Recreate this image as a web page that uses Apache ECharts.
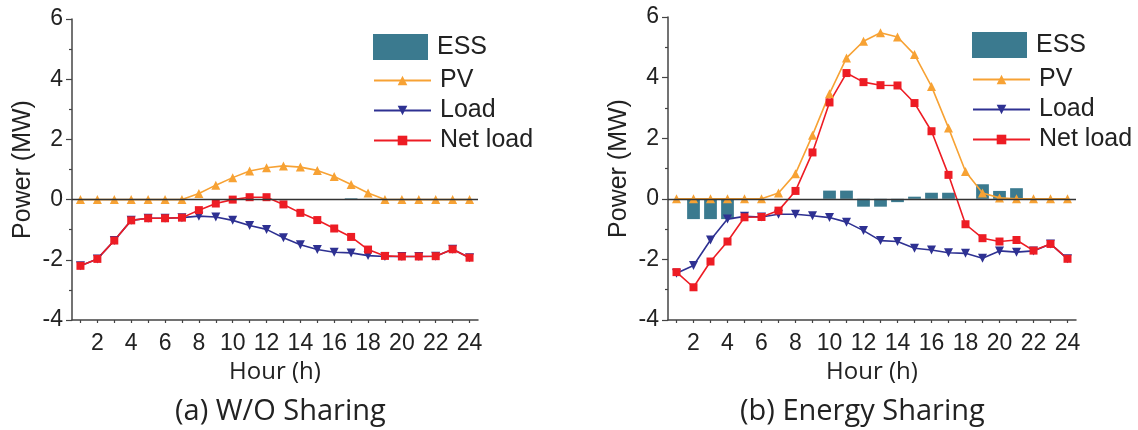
<!DOCTYPE html>
<html>
<head>
<meta charset="utf-8">
<script src="https://cdn.jsdelivr.net/npm/echarts@6/dist/echarts.min.js"></script>
<style>
html,body{margin:0;padding:0;background:#fff;}
#chart{width:1138px;height:430px;}
</style>
</head>
<body>
<div id="chart"></div>
<script>
// ---- data ----
const hours = ['1','2','3','4','5','6','7','8','9','10','11','12','13','14','15','16','17','18','19','20','21','22','23','24'];
const yTicks = [-4, -2, 0, 2, 4, 6];

// (a) W/O Sharing
const essA  = [0,0,0,0,0,0,0,0,0,0,0,0,0,0,0,0,0.04,0,0,0,0,0,0,0];
const pvA   = [0,0,0,0,0,0,0,0.2,0.48,0.73,0.95,1.06,1.12,1.08,0.97,0.77,0.5,0.22,0,0,0,0,0,0];
const loadA = [-2.2,-1.97,-1.36,-0.69,-0.62,-0.62,-0.6,-0.55,-0.58,-0.69,-0.86,-0.99,-1.27,-1.5,-1.66,-1.75,-1.77,-1.86,-1.89,-1.89,-1.89,-1.88,-1.65,-1.93];
const netA  = [-2.2,-1.97,-1.36,-0.69,-0.62,-0.62,-0.6,-0.35,-0.13,0.0,0.08,0.08,-0.16,-0.44,-0.68,-0.96,-1.24,-1.66,-1.87,-1.89,-1.89,-1.88,-1.65,-1.93];

// (b) Energy Sharing
const essB  = [0,-0.67,-0.67,-0.67,0,0,0,0,0,0.27,0.27,-0.26,-0.26,-0.11,0.07,0.2,0.2,0,0.48,0.26,0.35,0,0,0];
const pvB   = [0,0,0,0,0,0,0.19,0.83,2.1,3.47,4.65,5.2,5.48,5.34,4.76,3.71,2.34,0.9,0.19,0.03,0,0,0,0];
const loadB = [-2.46,-2.2,-1.36,-0.67,-0.58,-0.6,-0.51,-0.51,-0.56,-0.62,-0.77,-1.05,-1.38,-1.41,-1.63,-1.69,-1.78,-1.8,-1.96,-1.72,-1.76,-1.72,-1.49,-1.98];
const netB  = [-2.42,-2.92,-2.07,-1.41,-0.61,-0.6,-0.39,0.26,1.53,3.18,4.15,3.85,3.75,3.74,3.16,2.23,0.79,-0.84,-1.3,-1.41,-1.36,-1.71,-1.49,-1.98];

const captions = ['(a) W/O Sharing', '(b) Energy Sharing'];
const names = ['ESS', 'PV', 'Load', 'Net load'];

// ---- styles ----
const C = { ess:'#3b7a8f', pv:'#f7a234', load:'#2e3192', net:'#ed1c24', axis:'#444', text:'#222' };
const numFont = 'Liberation Sans';
const capFont = 'Open Sans';

const grids = [
  { left: 72, right: 1138 - 478, top: 19, bottom: 110 },
  { left: 668, right: 1138 - 1076, top: 17, bottom: 110 }
];

function xAxes(g) {
  return [
    { gridIndex: g, type: 'category', data: hours, position: 'bottom',
      axisLine: { onZero: false, lineStyle: { color: C.axis, width: 1.5 } },
      axisTick: { alignWithLabel: true, interval: (i) => i % 2 === 1, length: 6, lineStyle: { color: C.axis, width: 1.2 } },
      axisLabel: { interval: (i) => i % 2 === 1, fontSize: 23, fontFamily: numFont, color: C.text, margin: 12 },
      splitLine: { show: false },
      name: 'Hour (h)', nameLocation: 'middle', nameGap: 38,
      nameTextStyle: { fontSize: 24, fontFamily: capFont, color: C.text } },
    { gridIndex: g, type: 'category', data: hours, position: 'bottom',
      axisLine: { show: false, onZero: false },
      axisTick: { show: true, alignWithLabel: true, interval: 0, length: 3, lineStyle: { color: C.axis, width: 1.2 } },
      axisLabel: { show: false }, splitLine: { show: false } }
  ];
}
function yAxis(g) {
  return { gridIndex: g, type: 'value', min: yTicks[0], max: yTicks[yTicks.length-1], interval: 2,
    axisLine: { show: true, lineStyle: { color: C.axis, width: 1.5 } },
    axisTick: { show: true, length: 6, lineStyle: { color: C.axis, width: 1.2 } },
    minorTick: { show: true, splitNumber: 2, length: 3, lineStyle: { color: C.axis, width: 1.2 } },
    splitLine: { show: false }, minorSplitLine: { show: false },
    axisLabel: { fontSize: 23, fontFamily: numFont, color: C.text, margin: 9 },
    name: 'Power (MW)', nameLocation: 'middle', nameGap: 36,
    nameTextStyle: { fontSize: 25, fontFamily: numFont, color: C.text } };
}

function seriesFor(g, ess, pv, load, net) {
  const xi = g * 2, yi = g;
  const lineBase = { type: 'line', xAxisIndex: xi, yAxisIndex: yi, smooth: false, showSymbol: true };
  return [
    { name: 'ESS', type: 'bar', xAxisIndex: xi, yAxisIndex: yi, data: ess, barWidth: '75%',
      itemStyle: { color: C.ess },
      markLine: { silent: true, symbol: 'none', label: { show: false },
        lineStyle: { color: '#333', width: 1.3, type: 'solid' }, data: [{ yAxis: 0 }] } },
    Object.assign({}, lineBase, { name: 'PV', data: pv, symbol: 'triangle', symbolSize: 9,
      lineStyle: { color: C.pv, width: 1.6 }, itemStyle: { color: C.pv } }),
    Object.assign({}, lineBase, { name: 'Load', data: load, symbol: 'triangle', symbolRotate: 180, symbolSize: 9,
      lineStyle: { color: C.load, width: 1.6 }, itemStyle: { color: C.load } }),
    Object.assign({}, lineBase, { name: 'Net load', data: net, symbol: 'rect', symbolSize: 8,
      lineStyle: { color: C.net, width: 1.6 }, itemStyle: { color: C.net } })
  ];
}

function legends(left, essTop, lineTop) {
  const ts = { fontSize: 25, fontFamily: numFont, color: C.text, lineHeight: 25, padding: [0, 0, 0, 4] };
  return [
    { orient: 'vertical', left: left, top: essTop, padding: 0, data: [names[0]], icon: 'rect',
      itemWidth: 55, itemHeight: 26, itemGap: 5, textStyle: ts, selectedMode: false },
    { orient: 'vertical', left: left, top: lineTop, padding: 0, data: names.slice(1),
      itemWidth: 57, itemHeight: 12, itemGap: 5, textStyle: ts, selectedMode: false }
  ];
}

const option = {
  animation: false,
  backgroundColor: '#fff',
  title: [
    { text: captions[0], left: 175, top: 397, padding: 0, textStyle: { fontSize: 29, fontFamily: capFont, fontWeight: 'normal', color: C.text } },
    { text: captions[1], left: 740, top: 397, padding: 0, textStyle: { fontSize: 29, fontFamily: capFont, fontWeight: 'normal', color: C.text } }
  ],
  legend: [].concat(legends(373, 34, 68), legends(972, 32, 67)),
  grid: grids,
  xAxis: [].concat(xAxes(0), xAxes(1)),
  yAxis: [yAxis(0), yAxis(1)],
  series: [].concat(seriesFor(0, essA, pvA, loadA, netA), seriesFor(1, essB, pvB, loadB, netB))
};

const chart = echarts.init(document.getElementById('chart'), null, { renderer: 'canvas' });
chart.setOption(option);
</script>
</body>
</html>
